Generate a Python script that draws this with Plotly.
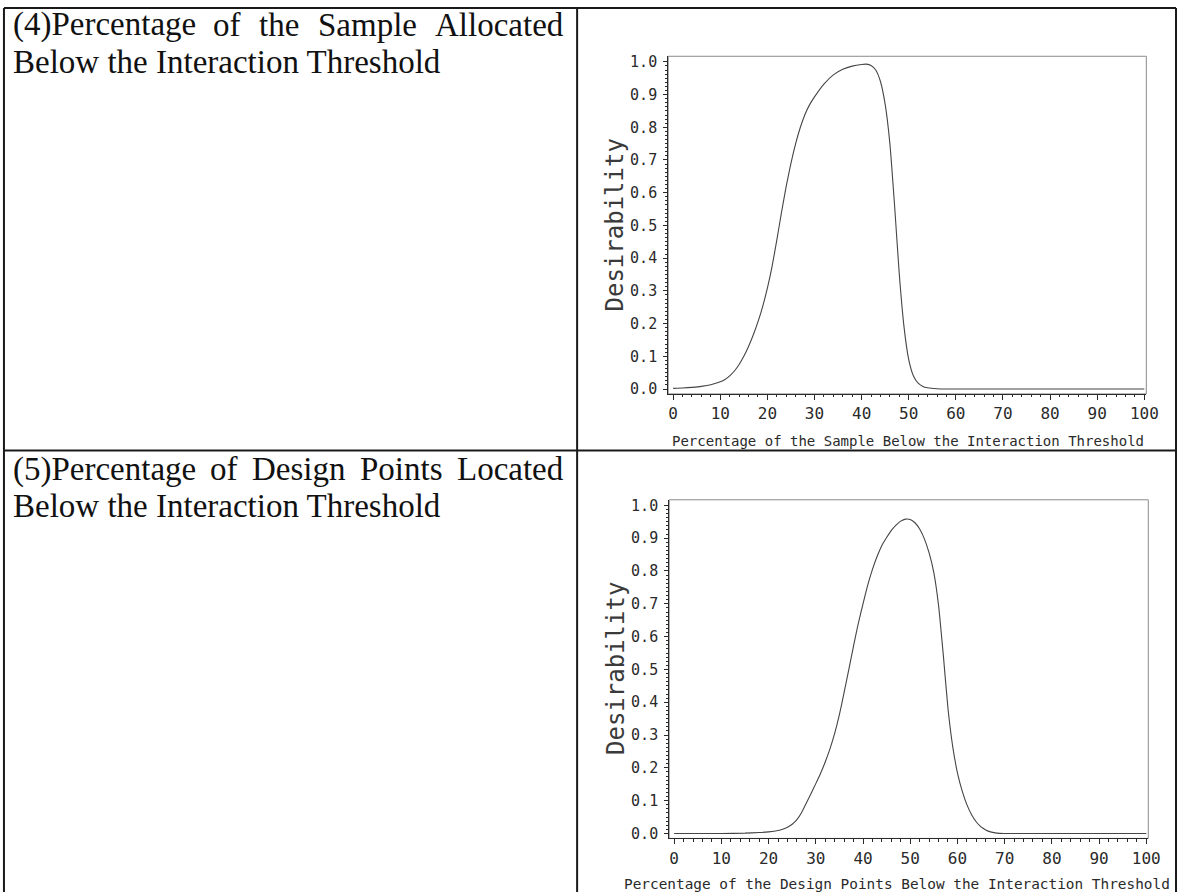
import plotly.graph_objects as go

# ---- data -------------------------------------------------------------
# (4) share of the sample below the interaction threshold
sample_pct = [0, 2, 4, 6, 8, 10, 11, 12, 13, 14, 15, 16, 17, 18, 19, 20, 21, 22,
              23, 24, 25, 26, 27, 28, 29, 30, 32, 34, 36, 38, 40, 41, 42, 43, 44,
              45, 46, 47, 48, 49, 50, 51, 52, 53, 54, 56, 58, 60, 70, 80, 90, 100]
sample_desir = [0.002, 0.003, 0.005, 0.008, 0.013, 0.022, 0.029, 0.04, 0.055,
                0.075, 0.1, 0.13, 0.165, 0.205, 0.252, 0.308, 0.375, 0.455,
                0.54, 0.62, 0.69, 0.75, 0.80, 0.84, 0.87, 0.893, 0.932, 0.96,
                0.977, 0.987, 0.992, 0.993, 0.989, 0.975, 0.94, 0.87, 0.75, 0.56,
                0.35, 0.19, 0.09, 0.04, 0.018, 0.008, 0.004, 0.001, 0.0, 0.0, 0.0,
                0.0, 0.0, 0.0]

# (5) share of the design points below the interaction threshold
design_pct = [0, 5, 10, 15, 18, 20, 22, 23, 24, 25, 26, 27, 28, 29, 30, 31, 32,
              33, 34, 35, 36, 37, 38, 39, 40, 41, 42, 43, 44, 45, 46, 47, 48, 49,
              50, 51, 52, 53, 54, 55, 56, 57, 58, 59, 60, 61, 62, 63, 64, 65, 66,
              67, 68, 70, 80, 90, 100]
design_desir = [0.0, 0.0, 0.0, 0.001, 0.003, 0.005, 0.009, 0.013, 0.019, 0.028,
                0.042, 0.064, 0.093, 0.122, 0.152, 0.183, 0.218, 0.258, 0.305,
                0.362, 0.43, 0.50, 0.572, 0.64, 0.70, 0.757, 0.805, 0.845, 0.878,
                0.902, 0.924, 0.94, 0.952, 0.958, 0.957, 0.947, 0.928, 0.898,
                0.855, 0.795, 0.695, 0.545, 0.38, 0.265, 0.185, 0.13, 0.088,
                0.057, 0.035, 0.02, 0.011, 0.005, 0.002, 0.0, 0.0, 0.0, 0.0]

x_ticks = [0, 10, 20, 30, 40, 50, 60, 70, 80, 90, 100]
y_ticks = [0.0, 0.1, 0.2, 0.3, 0.4, 0.5, 0.6, 0.7, 0.8, 0.9, 1.0]

row_titles = [
    ["(4)Percentage", "of", "the", "Sample", "Allocated"],
    ["(5)Percentage", "of", "Design", "Points", "Located"],
]
row_second_line = "Below the Interaction Threshold"
x_titles = [
    "Percentage of the Sample Below the Interaction Threshold",
    "Percentage of the Design Points Below the Interaction Threshold",
]
y_title = "Desirability"

# ---- page geometry (pixels) ---------------------------------------------
W, H = 1189, 896


def px(x):
    return x / W


def py(y):
    return 1 - y / H


# plot frames: (left, right, top, bottom)
frames = [(675, 1158, 53.7, 394), (676, 1160, 500.7, 842)]
y_title_pos = [(621.5, 224), (622.5, 671)]
x_title_pos = [(917, 441, 14), (906, 888, 14.4)]

MONO = "DejaVu Sans Mono, monospace"
SERIF = "Liberation Serif, Times New Roman, serif"
INK = "#2a2a2a"

# Times advance widths (1/1000 em) used to justify the first text line
TIMES_W = {'(': 333, ')': 333, '4': 500, '5': 500, 'P': 556, 'e': 444, 'r': 333,
           'c': 444, 'n': 500, 't': 278, 'a': 444, 'g': 500, 'o': 500, 'f': 333,
           'h': 500, 'S': 556, 'm': 778, 'p': 500, 'l': 278, 'A': 722, 'd': 500,
           'D': 722, 's': 389, 'i': 278, 'L': 611}


def word_width(word, size):
    return sum(TIMES_W.get(ch, 500) for ch in word) / 1000 * size


fig = go.Figure()

curves = [(sample_pct, sample_desir), (design_pct, design_desir)]
minor_x = [v for v in range(0, 101, 2) if v % 10]
minor_y = [round(i * 0.0125, 4) for i in range(81) if i % 8]

annotations = []
shapes = []

for i, ((xs, ys), (l, r, t, b)) in enumerate(zip(curves, frames)):
    n = "" if i == 0 else str(i + 1)
    fig.add_trace(go.Scatter(
        x=xs, y=ys, mode="lines",
        line=dict(color="#454545", width=1.1, shape="spline", smoothing=0.5),
        xaxis="x" + n, yaxis="y" + n, showlegend=False, hoverinfo="skip",
    ))
    fig.update_layout(**{
        "xaxis" + n: dict(
            domain=[px(l), px(r)], range=[-1.05, 100.42], anchor="y" + n,
            tickvals=x_ticks, ticks="outside", ticklen=5, tickwidth=1,
            tickcolor=INK, showline=True, linecolor=INK, linewidth=1,
            showgrid=False, zeroline=False,
            tickfont=dict(family=MONO, size=16, color=INK),
            minor=dict(tickvals=minor_x, ticks="outside", ticklen=2.5,
                       tickcolor=INK, showgrid=False),
        ),
        "yaxis" + n: dict(
            domain=[py(b), py(t)], range=[-0.015, 1.017], anchor="x" + n,
            tickvals=y_ticks, tickformat=".1f", ticks="outside", ticklen=4,
            tickwidth=1, tickcolor=INK, showline=True, linecolor=INK,
            linewidth=1, showgrid=False, zeroline=False, ticklabelstandoff=3,
            tickfont=dict(family=MONO, size=15, color=INK),
            minor=dict(tickvals=minor_y, ticks="outside", ticklen=2,
                       tickcolor=INK, showgrid=False),
        ),
    })
    # light frame around the plot area
    shapes.append(dict(type="rect", xref="x" + n + " domain",
                       yref="y" + n + " domain", x0=0, x1=1, y0=0, y1=1,
                       line=dict(color="#8a8a8a", width=1), layer="below"))
    # axis titles
    yx, yy = y_title_pos[i]
    annotations.append(dict(text=y_title, x=px(yx), y=py(yy), xref="paper",
                            yref="paper", textangle=-90, showarrow=False,
                            xanchor="center", yanchor="middle",
                            font=dict(family=MONO, size=24, color="#3a3a3a")))
    tx, ty, ts = x_title_pos[i]
    annotations.append(dict(text=x_titles[i], x=px(tx), y=py(ty), xref="paper",
                            yref="paper", showarrow=False, xanchor="center",
                            yanchor="middle",
                            font=dict(family=MONO, size=ts, color=INK)))

# ---- left-column descriptions (first line justified) ---------------------
TXT_SIZE = 33
left_x, right_x = 12, 567
row_tops = [22, 470]
for words, y0 in zip(row_titles, row_tops):
    widths = [word_width(w, TXT_SIZE) for w in words]
    gap = (right_x - left_x - sum(widths)) / (len(words) - 1)
    xpos = left_x
    for w, ww in zip(words, widths):
        annotations.append(dict(text=w, x=px(xpos), y=py(y0), xref="paper",
                                yref="paper", showarrow=False, xanchor="left",
                                yanchor="middle", borderpad=0,
                                font=dict(family=SERIF, size=TXT_SIZE,
                                          color="#111")))
        xpos += ww + gap
    annotations.append(dict(text=row_second_line, x=px(left_x), y=py(y0 + 37),
                            xref="paper", yref="paper", showarrow=False,
                            xanchor="left", yanchor="middle", borderpad=0,
                            font=dict(family=SERIF, size=TXT_SIZE, color="#111")))

# ---- table rules ---------------------------------------------------------
rule = dict(color="#1a1a1a", width=2)
for y in (5, 451):
    shapes.append(dict(type="line", xref="paper", yref="paper", x0=px(4),
                       x1=px(1188), y0=py(y), y1=py(y), line=rule))
for x in (4, 583, 1188):
    shapes.append(dict(type="line", xref="paper", yref="paper", x0=px(x),
                       x1=px(x), y0=py(5), y1=py(896), line=rule))

fig.update_layout(
    width=W, height=H, margin=dict(l=0, r=0, t=0, b=0),
    paper_bgcolor="white", plot_bgcolor="white",
    annotations=annotations, shapes=shapes, showlegend=False,
)

fig.write_html("out.html")
